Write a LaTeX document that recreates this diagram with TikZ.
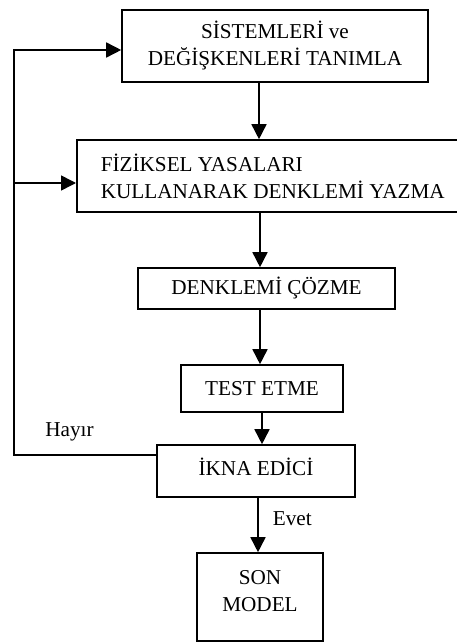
\documentclass[tikz,border=0pt]{standalone}
\usepackage{fontspec}
\setmainfont{Liberation Serif}
\usepackage{tikz}
\usetikzlibrary{positioning,arrows.meta}

\tikzset{
  box/.style={draw, line width=0.8pt, inner sep=0pt, align=center},
  arr/.style={line width=0.8pt, -{Triangle[length=7.5pt,width=7.5pt]}},
  lbl/.style={inner sep=0pt}
}

\begin{document}
\begin{tikzpicture}[x=0.5pt, y=-0.5pt, font=\fontsize{10.6}{13.5}\selectfont]
                    \useasboundingbox (0,0) rectangle (456,642);
                    % steps of the modelling loop
                    \node[box, minimum width=153pt, minimum height=36pt] (sistem) at (275,46) {S\.ISTEMLER\.I ve\\DE\u{G}\.I\c{S}KENLER\.I TANIMLA};
                    \node[box, anchor=west, align=left, inner xsep=12pt, minimum height=36pt] (yasa) at (76,176) {F\.IZ\.IKSEL YASALARI\\KULLANARAK DENKLEM\.I YAZMA};
                    \node[box, minimum width=128.5pt, minimum height=20.5pt] (coz) at (266.5,288.5) {DENKLEM\.I \c{C}\"OZME};
                    \node[box, minimum width=81pt, minimum height=23.5pt] (test) at (262,388.5) {TEST ETME};
                    \node[box, minimum width=99pt, minimum height=26pt, text depth=4pt] (ikna) at (256,471) {\.IKNA ED\.IC\.I};
                    \node[box, minimum width=63pt, minimum height=44pt, text depth=6pt] (son) at (260,597) {SON\\MODEL};
                    % corners of the feedback line
                    \coordinate (loop) at (14,455);
                    \coordinate (intop) at ([yshift=-2pt]sistem.west);
                    \coordinate (inmid) at ([yshift=-3.5pt]yasa.west);
                    % main flow
                    \draw[arr] ([xshift=-8pt]sistem.south) -- ([xshift=-8pt]sistem.south |- yasa.north);
                    \draw[arr] ([xshift=-3.25pt]coz.north |- yasa.south) -- ([xshift=-3.25pt]coz.north);
                    \draw[arr] ([xshift=-1pt]test.north |- coz.south) -- ([xshift=-1pt]test.north);
                    \draw[arr] (test.south) -- (test.south |- ikna.north);
                    \draw[arr] ([xshift=-1pt]son.north |- ikna.south) -- node[lbl, pos=0.38, right=7pt] {Evet} ([xshift=-1pt]son.north);
                    % feedback when not convincing
                    \draw[arr] ([yshift=8pt]ikna.west) -- node[lbl, pos=0.61, above=6.5pt] {Hay\i r} (loop) -- (loop |- intop) -- (intop);
                    \draw[arr] (loop |- inmid) -- (inmid);
                \end{tikzpicture}
\end{document}
